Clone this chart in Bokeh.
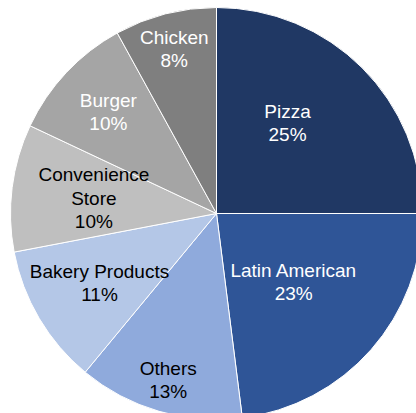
import math
from bokeh.plotting import figure
from bokeh.models import Range1d, ColumnDataSource
from bokeh.core.properties import value
from bokeh.embed import file_html
from bokeh.resources import INLINE

categories = ["Pizza", "Latin American", "Others", "Bakery Products",
              "Convenience\nStore", "Burger", "Chicken"]
shares = [25, 23, 13, 11, 10, 10, 8]
colors = ["#203864", "#2F5597", "#8FAADC", "#B4C7E7", "#BFBFBF", "#A5A5A5", "#7F7F7F"]
label_colors = ["white", "white", "black", "black", "black", "white", "white"]
label_r = [0.56, 0.50, 0.84, 0.66, 0.60, 0.72, 0.825]  # label distance as fraction of radius
label_da = [-7, 0, 0, 0, 0, 0, 0]  # label angle shift in degrees (clockwise +)

W, H = 416, 413
cx, cy, R = 216, 200, 206

total = sum(shares)
starts, ends, tx, ty, labels = [], [], [], [], []
cum = 0.0
for s, f, da, c in zip(shares, label_r, label_da, categories):
    a0 = math.pi / 2 - 2 * math.pi * cum / total
    a1 = math.pi / 2 - 2 * math.pi * (cum + s) / total
    starts.append(a1)
    ends.append(a0)
    mid = (a0 + a1) / 2 - math.radians(da)
    tx.append(cx + f * R * math.cos(mid))
    ty.append(cy + f * R * math.sin(mid))
    labels.append(f"{c}\n{s}%")
    cum += s

src = ColumnDataSource(dict(start=starts, end=ends, color=colors,
                            tx=tx, ty=ty, label=labels, lc=label_colors))

p = figure(width=W, height=H, output_backend="svg", toolbar_location=None,
           x_range=Range1d(0, W), y_range=Range1d(0, H), min_border=0)
p.axis.visible = False
p.grid.visible = False
p.outline_line_color = None
p.background_fill_color = "white"

p.wedge(x=cx, y=cy, radius=R, start_angle="start", end_angle="end",
        fill_color="color", line_color="white", line_width=1, source=src)
p.text(x="tx", y="ty", text="label", text_color="lc", source=src,
       text_font=value("Liberation Sans"), text_font_size="19px",
       text_align="center", text_baseline="middle", text_line_height=1.1)

open("out.html", "w").write(file_html(p, INLINE))
